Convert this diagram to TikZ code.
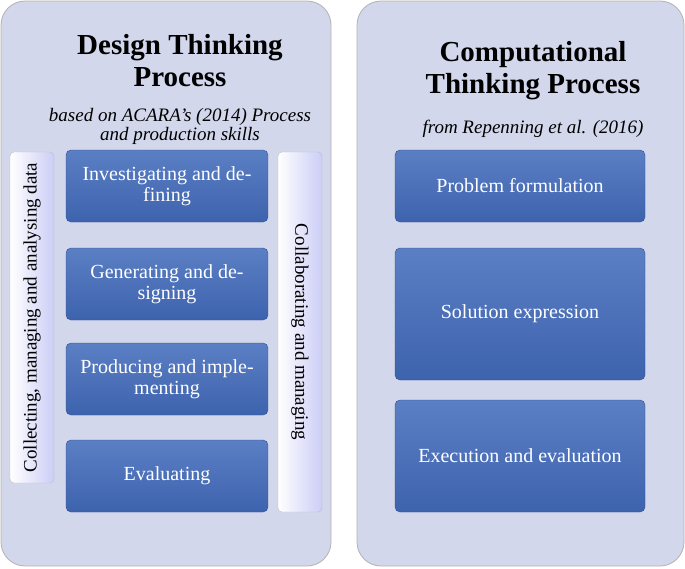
\documentclass[tikz,border=0pt]{standalone}
\usepackage{fontspec}
\setmainfont{Liberation Serif}
\usetikzlibrary{positioning}
\definecolor{panelfill}{HTML}{D3D7EC}
\definecolor{boxtop}{HTML}{5B7FC4}
\definecolor{boxbot}{HTML}{3E63AE}
\begin{document}
\begin{tikzpicture}[x=1pt,y=-1pt,
    panel/.style={draw=gray!60, fill=panelfill, rounded corners=24pt, line width=0.8pt},
    stepbox/.style={rectangle, draw=boxbot!80!black, top color=boxtop, bottom color=boxbot, rounded corners=5pt,
                    text=white, align=center, font=\fontsize{20}{21}\selectfont, minimum width=202pt},
    sidebar/.style={rectangle, draw=gray!50, left color=white, right color=panelfill!80!blue!60, rounded corners=4pt,
                    minimum width=44pt}]
  \useasboundingbox (0,0) rectangle (685,568);
  % panels
  \draw[panel] (1,1) rectangle (331,566);
  \draw[panel] (357,1) rectangle (684,566);
  % titles
  \node[font=\bfseries\fontsize{29}{32}\selectfont, align=center] (dtitle) at (180,61) {Design Thinking\\Process};
  \node[font=\itshape\fontsize{19}{19}\selectfont, align=center] (dsub) at (180,126) {based on ACARA’s (2014) Process\\and production skills};
  \node[font=\bfseries\fontsize{29}{32}\selectfont, align=center] (ctitle) at (533,71) {Computational\\Thinking Process};
  \node[font=\itshape\fontsize{19}{19}\selectfont] (csub) at (533,129) {from Repenning et al. (2016)};
  % side bars
  \node[sidebar, minimum height=331pt] (collect) at (32,317.5) {};
  \node[rotate=90, font=\fontsize{19}{19}\selectfont] at (collect.center) {Collecting, managing and analysing data};
  \node[sidebar, minimum height=360pt] (collab) at (300,332) {};
  \node[rotate=-90, font=\fontsize{19}{19}\selectfont] at (collab.center) {Collaborating and managing};
  % design steps
  \node[stepbox, minimum height=72pt] (inv) at (167,186) {Investigating and de-\\fining};
  \node[stepbox, minimum height=72pt] (gen) at (167,284) {Generating and de-\\signing};
  \node[stepbox, minimum height=72pt] (prod) at (167,379) {Producing and imple-\\menting};
  \node[stepbox, minimum height=72pt] (eval) at (167,476) {Evaluating};
  % computational steps
  \node[stepbox, minimum width=250pt, minimum height=72pt] (prob) at (520,186) {Problem formulation};
  \node[stepbox, minimum width=250pt, minimum height=132pt] (sol) at (520,314) {Solution expression};
  \node[stepbox, minimum width=250pt, minimum height=112pt] (exe) at (520,456) {Execution and evaluation};
\end{tikzpicture}
\end{document}
